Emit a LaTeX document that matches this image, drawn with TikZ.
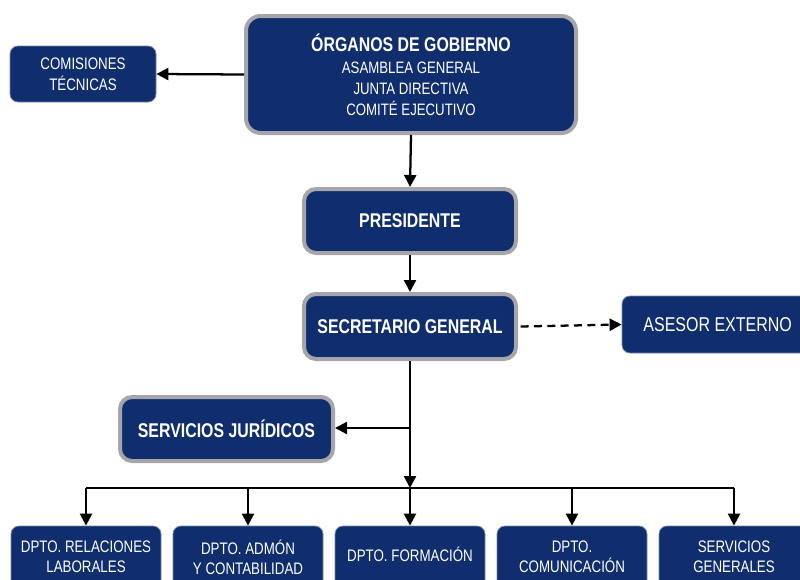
\documentclass[tikz,border=0pt]{standalone}
\usepackage{fontspec}
\setmainfont{Liberation Sans}[FakeStretch=0.8]
\usetikzlibrary{arrows.meta}
\definecolor{navy}{RGB}{16,46,110}
\definecolor{rim}{RGB}{165,165,170}
\definecolor{thinrim}{RGB}{120,135,165}
\newcommand{\subl}{\mdseries\fontsize{12.4}{15.75}\selectfont}
\begin{document}
\begin{tikzpicture}[x=0.75pt,y=-0.75pt,
  box/.style={rectangle, rounded corners=6pt, fill=navy, draw=thinrim, line width=0.6pt,
    text=white, align=center, inner sep=0pt, font=\fontsize{12.5}{15}\selectfont},
  bigbox/.style={box, draw=rim, line width=3pt, rounded corners=9pt,
    font=\fontsize{14.9}{17}\selectfont\bfseries},
  arr/.style={draw=black, line width=1.7pt, -{Triangle[length=9pt,width=9pt]}},
  ln/.style={draw=black, line width=1.7pt}]
\useasboundingbox (0,0) rectangle (800,579);

\node[bigbox, minimum width=247.5pt, minimum height=87.75pt, rounded corners=11pt,
  font=\fontsize{14.9}{15.75}\selectfont\bfseries] (org) at (411,74.5)
  {ÓRGANOS DE GOBIERNO\\[0.75pt]
   \subl ASAMBLEA GENERAL\\ \subl JUNTA DIRECTIVA\\ \subl COMITÉ EJECUTIVO};
\node[box, minimum width=109.5pt, minimum height=42pt, font=\fontsize{12.5}{15.75}\selectfont] (com) at (83,74)
  {COMISIONES\\TÉCNICAS};
\node[bigbox, minimum width=159pt, minimum height=48pt] (pre) at (410,221) {PRESIDENTE};
\node[bigbox, minimum width=159pt, minimum height=48.75pt] (sec) at (410,326.5) {SECRETARIO GENERAL};
\node[box, minimum width=139.5pt, minimum height=42.75pt, font=\fontsize{15}{17}\selectfont] (ase) at (715,324.5)
  {\hspace*{4pt}ASESOR EXTERNO};
\node[bigbox, minimum width=159.75pt, minimum height=48pt] (sj) at (226.5,429) {SERVICIOS JURÍDICOS};

\begin{scope}[every node/.style={box, minimum width=112.5pt, minimum height=46.5pt, font=\fontsize{12.5}{15}\selectfont}]
\node (d1) at (86,557) {DPTO. RELACIONES\\LABORALES};
\node (d2) at (248,557) {DPTO. ADMÓN\\Y CONTABILIDAD};
\node (d3) at (410,557) {\raisebox{3.5pt}{DPTO. FORMACIÓN}};
\node (d4) at (572,557) {DPTO.\\COMUNICACIÓN};
\node (d5) at (734,557) {SERVICIOS\\GENERALES};
\end{scope}

\coordinate (j) at (410,428);
\coordinate (bus) at (410,488);
\coordinate (b1) at (86,488);
\coordinate (b5) at (734,488);

\draw[arr] (org.west) -- (com.east);
\draw[arr] (org.south) -- (pre.north);
\draw[arr] (pre.south) -- (sec.north);
\draw[arr, dash pattern=on 6pt off 4pt] ([xshift=2pt]sec.east) -- (ase.west);
\draw[arr] (sec.south) -- (bus);
\draw[arr] (j) -- (j -| sj.east);
\draw[ln] (b1) -- (b5);
\foreach \d in {d1,d2,d3,d4,d5}{\draw[arr] (bus -| \d.north) -- (\d.north);}
\end{tikzpicture}
\end{document}
